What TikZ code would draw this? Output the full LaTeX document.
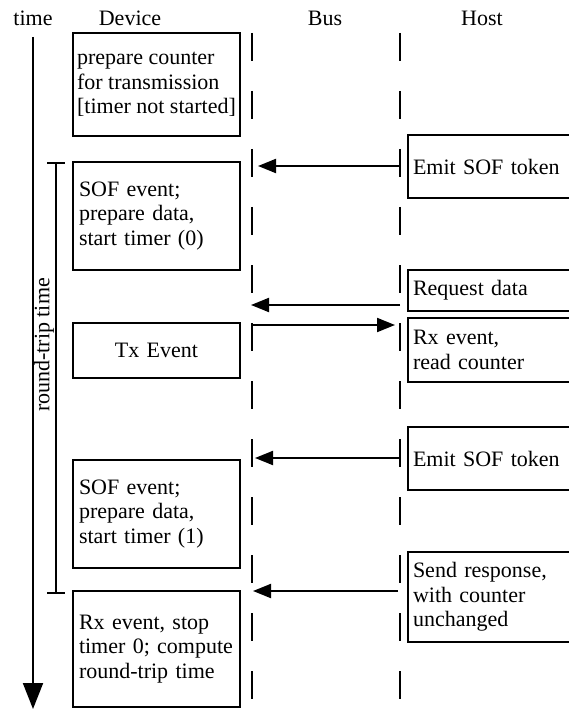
\documentclass[tikz,border=0pt]{standalone}
\usepackage{fontspec}
\setmainfont{Liberation Serif}
\usetikzlibrary{arrows.meta}
\begin{document}
\begin{tikzpicture}[x=1pt,y=-1pt,
  font=\fontsize{22}{24.5}\selectfont,
  every node/.style={text=black},
  box/.style={draw, line width=2pt, outer sep=0pt, inner ysep=0pt, align=left},
  devbox/.style={box, anchor=north west, inner xsep=6pt, text width=155pt},
  hostbox/.style={box, anchor=north west, inner xsep=5pt, text width=160pt},
  lifeline/.style={line width=2pt, dash pattern=on 28pt off 30pt},
  msg/.style={line width=2pt, -{Triangle[length=18pt,width=14pt]}},
  header/.style={anchor=base}
]
\useasboundingbox (0,0) rectangle (569,711);
\clip (0,0) rectangle (569,711);

% column headers
\node[header] (htime) at (33,26) {time};
\node[header] (hdev)  at (130,26) {Device};
\node[header] (hbus)  at (325,26) {Bus};
\node[header] (hhost) at (482,26) {Host};

% time axis
\coordinate (t0) at (33,37);
\coordinate (t1) at (33,709);
\draw[line width=2pt, -{Triangle[length=26pt,width=20pt]}] (t0) -- (t1);

% round-trip interval
\coordinate (r0) at (56,163);
\coordinate (r1) at (56,593);
\draw[line width=2pt] (r0) -- (r1);
\draw[line width=2pt] ([xshift=-9pt]r0) -- ([xshift=9pt]r0);
\draw[line width=2pt] ([xshift=-9pt]r1) -- ([xshift=9pt]r1);
\node[rotate=90] (rtt) at (44,345) {round-trip time};

% lifelines
\coordinate (bus0) at (252,33);
\coordinate (bus1) at (252,711);
\coordinate (host0) at (400,33);
\coordinate (host1) at (400,711);
\draw[lifeline] (bus0) -- (bus1);
\draw[lifeline] (host0) -- (host1);

% device activities
\node[box, anchor=north west, inner xsep=0pt, minimum width=167pt, minimum height=103pt] (d1) at (73,33)
  {prepare counter\\for transmission\\{[timer not started]}};
\node[devbox, minimum height=108pt] (d2) at (73,162)
  {SOF event;\\prepare data,\\start timer (0)};
\node[devbox, align=center, minimum height=55pt] (d3) at (73,323) {Tx Event};
\node[devbox, minimum height=108pt] (d4) at (73,460)
  {SOF event;\\prepare data,\\start timer (1)};
\node[devbox, minimum height=116pt] (d5) at (73,591)
  {Rx event, stop\\timer 0; compute\\round-trip time};

% host activities
\node[hostbox, minimum height=63pt] (h1) at (408,135) {Emit SOF token};
\node[hostbox, minimum height=41pt] (h2) at (408,270) {Request data};
\node[hostbox, minimum height=64pt] (h3) at (408,318) {Rx event,\\read counter};
\node[hostbox, minimum height=63pt] (h4) at (408,427) {Emit SOF token};
\node[hostbox, minimum height=90pt] (h5) at (408,552)
  {Send response,\\with counter\\unchanged};

% messages between host and bus
\coordinate (m1a) at (400,166); \coordinate (m1b) at (258,166);
\coordinate (m2a) at (400,305); \coordinate (m2b) at (251,305);
\coordinate (m3a) at (252,325); \coordinate (m3b) at (395,325);
\coordinate (m4a) at (400,458); \coordinate (m4b) at (255,458);
\coordinate (m5a) at (398,591); \coordinate (m5b) at (253,591);
\draw[msg] (m1a) -- (m1b);
\draw[msg] (m2a) -- (m2b);
\draw[msg] (m3a) -- (m3b);
\draw[msg] (m4a) -- (m4b);
\draw[msg] (m5a) -- (m5b);
\end{tikzpicture}
\end{document}
